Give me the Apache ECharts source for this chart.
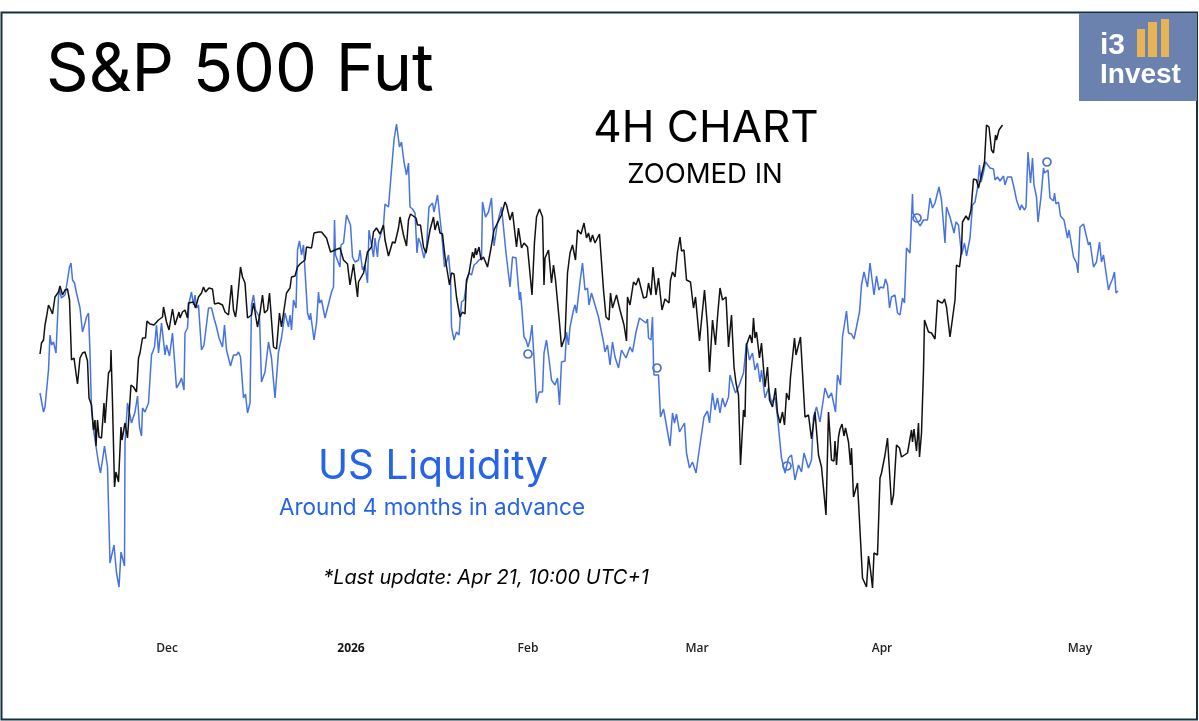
<!DOCTYPE html>
<html>
<head>
<meta charset="utf-8">
<title>S&amp;P 500 Fut vs US Liquidity</title>
<script src="https://cdn.jsdelivr.net/npm/echarts@6/dist/echarts.min.js"></script>
<style>
  html, body { margin: 0; padding: 0; background: #fff; }
  #chart { width: 1199px; height: 721px; }
</style>
</head>
<body>
<div id="chart"></div>
<script>
// 月份刻度（横轴位置与标签）
const monthTicks = [127, 311, 488, 657, 842, 1040]
const monthLabels = ['Dec', '2026', 'Feb', 'Mar', 'Apr', 'May']

// US Liquidity (shifted about 4 months ahead)
const liquidityBars = [0,1.5,3.5,5,6.5,8.5,10,11.5,13.5,16,18.5,19.5,21.5,25,27.5,29.5,31,32.5,34.5,36.5,40,41,42.5,45,46.5,48.5,50,51.5,53.5,55.5,58.5,60.5,62.5,64.5,67.5,70,74,76.5,79,81,84.5,85,87.5,89.5,91.5,95,97.5,99.5,101.5,102.5,105,108.5,111.5,114.5,116.5,118.5,121.5,125,126.5,129.5,132.5,136.5,140,141.5,144,145,147.5,149,151.5,153.5,155,156.5,158.5,161.5,164,168.5,171.5,174.5,176.5,179,182.5,184.5,186.5,190.5,193.5,196.5,198.5,200.5,203.5,205.5,207.5,210,211.5,213.5,215.5,219.5,221.5,225,228.5,231.5,235,238.5,241.5,245,248.5,
  250,251.5,253.5,255,256,257.5,259.5,261.5,263.5,265.5,267.5,269.5,270.5,274,276.5,278.5,279.5,281.5,285,286.5,289.5,291.5,293.5,294.5,295.5,297.5,300,301,303.5,306.5,310.5,312.5,315,318.5,320,322.5,325,327.5,329,331,333.5,335,337.5,338.5,340.5,343.5,345,348.5,351.5,354,356.5,359.5,361.5,364,366.5,368.5,370,372.5,375,377,378.5,380.5,384,386.5,389,392.5,394,397.5,399,401.5,404.5,406.5,408.5,410.5,411.5,414,416.5,419,421.5,424,426.5,429,431.5,434,436.5,439,441.5,442.5,445.5,448.5,451.5,454,457.5,461.5,463.5,466,467.5,470,472.5,476,479.5,480.5,482.5,484,486,488,490,492,494,496.5,499,502.5,504,506.5,509.5,511.5,515,517.5,519.5,
  521.5,525,526.5,528.5,530,533.5,535,536.5,540,542.5,545,547.5,549,551.5,555,558.5,563.5,565,567.5,570,572.5,575,578.5,581.5,586,590,592.5,596,599.5,606,607.5,608.5,611,612.5,613.5,614,618.5,620.5,623.5,625.5,630,632.5,634.5,636.5,639.5,641.5,644.5,646.5,649.5,652.5,656,659.5,661.5,664,667.5,669.5,672.5,675,677.5,680,682.5,685,688.5,690,693.5,695.5,698.5,700.5,703.5,706.5,709.5,712.5,715,717.5,720,721.5,725,728.5,731.5,735,737.5,740,741.5,745,748.5,751.5,755,758.5,761.5,764,768.5,771.5,773.5,776.5,780,785,788.5,791.5,795.5,797.5,800.5,802.5,806.5,
  808.5,811.5,814,816.5,819.5,821.5,824,826,827.5,830,831.5,834,836.5,839,840.5,843.5,845.5,847.5,849.5,851.5,855,857.5,860,862.5,864.5,866.5,870,872.5,873,880,883.5,887.5,890,892.5,895,899,901.5,905,906.5,910,914,916,918.5,921.5,924.5,926.5,930,932.5,935,937.5,939.5,941,943.5,945.5,947.5,950,953.5,955,957.5,960,963.5,965,967.5,971.5,974.5,976.5,980,981.5,984.5,986,988,990.5,992.5,994,996.5,998,1001,1003.5,1004.5,1008,1010,1013.5,1014.5,1016,1018.5,1020.5,1024,1027.5,1029,1033.5,1036.5,1038,1040,1043.5,1048.5,1050,1053.5,1056.5,1059.5,1061.5,1063.5,1065.5,1068.5,1070,1072.5,1074.5,1076,1078]
const liquidityLevels = [207,206,188,193,192,230,265,255,258,247,303,310,302,305,320,333,337,320,317,307,292,291,268,277,283,287,247,190,170,157,137,127,140,154,133,37,55,27,13,48,34,157,197,199,177,188,204,173,164,192,188,197,245,253,275,247,277,245,255,244,267,212,218,222,210,267,272,297,308,295,305,292,295,250,255,292,292,280,273,262,253,275,250,234,245,245,248,243,202,206,187,197,295,305,290,283,218,228,258,242,202,248,262,287,273,
  285,270,300,302,292,350,359,345,355,356,287,280,287,260,277,308,297,300,282,280,300,308,313,380,345,345,333,355,357,385,375,343,338,340,350,330,335,317,370,368,343,362,343,358,357,375,396,393,430,460,476,453,458,438,425,437,393,391,387,347,362,357,342,353,393,397,388,405,403,368,333,338,345,323,273,260,268,265,298,300,317,327,325,335,337,340,342,398,383,388,402,354,377,393,395,347,348,313,343,342,300,308,283,263,260,253,260,275,242,197,208,208,247,260,237,220,215,222,195,
  238,239,268,255,273,290,295,287,318,337,310,312,295,307,295,283,258,248,255,235,258,243,232,250,242,253,248,268,282,277,281,262,260,283,237,225,225,183,191,180,154,187,177,186,168,167,177,147,132,138,127,152,153,183,189,177,207,190,202,187,202,193,203,225,213,207,213,213,227,257,240,247,230,237,218,230,202,212,197,203,183,157,142,127,142,145,120,135,128,147,132,140,183,193,178,212,202,207,188,225,215,263,289,
  267,266,261,273,288,315,328,327,313,337,336,305,324,310,313,312,321,315,292,303,305,287,285,302,297,352,347,406,387,374,380,380,402,392,397,413,400,357,393,383,367,378,375,345,357,344,362,395,398,412,435,418,428,438,440,432,431,420,423,419,424,415,423,423,410,400,390,395,390,393,448,417,442,415,403,378,403,432,427,430,402,399,407,396,398,384,380,362,370,343,337,327,373,376,355,358,333,338,358,338,345,331,310,315,321,328,307,309]

// S&P 500 Fut, 4H
const sp500Bars = [0,1.5,3.5,5,6.5,8.5,10,12.5,15,18.5,20,22.5,25,27.5,29.5,31.5,34,36.5,37.5,40,42.5,45,47.5,49,51.5,53.5,55,56,57.5,59,61.5,64,65,68.5,70.5,71,72.5,74.5,76,78.5,81,82,85,87.5,91,93.5,96.5,98.5,100,102.5,105.5,107,110,114,118.5,122.5,123.5,126.5,129,132.5,135,136.5,139,140,142.5,145,147.5,148.5,153.5,155.5,158.5,161.5,163.5,165.5,169,172.5,174.5,178.5,182.5,185,188.5,191.5,193.5,195.5,196.5,200.5,202.5,205,207.5,211.5,213.5,217.5,220,222.5,224.5,227.5,229.5,231.5,233.5,236.5,239.5,241.5,246.5,
  250,251.5,255,257.5,260,265,266.5,271.5,274,278.5,281.5,286.5,290.5,295,300,303.5,307.5,310,313.5,315.5,317.5,318.5,323.5,327.5,331.5,333.5,336.5,340,343.5,345,348.5,352.5,355,358.5,360,363.5,366.5,368.5,370.5,376,377.5,380.5,383.5,386,390,393.5,395,397.5,400,402.5,405,409.5,411.5,414,416.5,420,422.5,425,426.5,429,432.5,434,435.5,436.5,439,441,443.5,447.5,451,454,456.5,461.5,465,466.5,470,472.5,476.5,478.5,481.5,484,487.5,492,494.5,496.5,499.5,502.5,504,505,508.5,511.5,513.5,515.5,519.5,
  521.5,525,527.5,530,532.5,535.5,537.5,541,544,546.5,548.5,550.5,552.5,555,559.5,563.5,566,569,570.5,572.5,576.5,580,584,586,586.5,587.5,590,593.5,596,598.5,600.5,603.5,606.5,608.5,611,613,616,618.5,622,625,629,630.5,632.5,635,637.5,640,641.5,644,646.5,650.5,653.5,655.5,659.5,664.5,667.5,669.5,672.5,675.5,677.5,680,682.5,686,688.5,691.5,694,696,698.5,700.5,703.5,705,706.5,710,712,713.5,715,716.5,719.5,721.5,725,727.5,729.5,732.5,735.5,737.5,740,742.5,744.5,746.5,749,750.5,754.5,756,760.5,765,768.5,771.5,775,778.5,781.5,786,788.5,
  791.5,794,795,796.5,798.5,800,802,804,805.5,808.5,810.5,811.5,813.5,815.5,817.5,820.5,822.5,826.5,828.5,830.5,832.5,834,837.5,840,841.5,845,847.5,851.5,853.5,856.5,859.5,861.5,867.5,871.5,872.5,874,876.5,878.5,879.5,881.5,
  883.5,884.5,886.5,888.5,891.5,895,897.5,900,902.5,904.5,906.5,910,911.5,915,916.5,919.5,921.5,922.5,926,928.5,931,933.5,936.5,938.5,941.5,944.5,946.5,949,951.5,953.5,955.5,956.5,959,962.5]
const sp500Levels = [246,257,260,275,283,295,292,286,303,308,314,305,310,311,300,240,242,223,216,242,247,248,239,202,195,170,180,154,180,163,162,197,177,227,230,250,197,113,128,118,173,160,177,162,215,213,208,242,247,262,262,279,276,275,280,283,293,278,270,291,275,273,288,282,288,290,282,297,298,292,303,307,313,308,312,311,296,297,295,288,285,315,290,283,290,333,323,317,282,285,297,273,287,305,287,290,307,280,253,251,287,273,307,
  312,323,324,333,336,340,353,352,367,368,368,362,348,350,352,340,336,315,336,338,303,318,327,348,353,368,372,366,375,360,344,358,357,372,383,365,354,380,386,382,375,375,353,347,370,383,370,379,367,366,343,315,327,326,303,283,288,286,320,327,348,342,352,345,353,340,343,333,352,370,375,385,398,395,380,388,353,372,352,357,353,305,358,383,391,383,315,342,350,317,335,320,277,
  253,263,327,347,355,340,370,366,377,362,367,358,365,357,366,310,283,280,307,292,305,290,275,273,259,303,295,318,315,322,322,302,303,317,305,333,305,322,290,301,297,320,328,323,348,363,349,350,320,318,292,303,259,310,273,228,280,255,283,312,300,303,253,285,233,217,205,135,190,183,255,265,257,282,262,268,242,257,213,233,200,193,212,187,177,188,175,207,200,223,262,245,263,183,185,161,188,145,133,85,188,
  140,139,159,135,163,171,176,164,172,158,135,152,103,103,117,60,22,13,44,30,12,47,45,122,127,145,162,95,105,155,152,143,147,170,158,171,149,177,143,167,
  230,280,279,268,267,261,300,298,297,301,293,263,265,300,335,333,350,378,384,380,390,421,420,412,425,438,475,473,450,447,465,460,470,475]

// 流动性曲线上的空心圆点
const markerBars = [488, 617, 747, 877, 1007]
const markerLevels = [246, 232, 134, 382, 438]

const zipPoints = (xs, ys) => xs.map((x, i) => [x, ys[i]])

const BLUE_LINE = '#4672e2'
const BLUE_TEXT = '#2563eb'
const NAVY = '#16303e'

// 文字块
const textBlock = (x, y, text, fontSize, extra = {}) => ({
  type: 'text',
  x,
  y,
  silent: true,
  style: {
    text,
    fontSize,
    fontFamily: 'Inter, "Noto Sans", sans-serif',
    fill: '#000',
    textVerticalAlign: 'middle',
    ...extra
  }
})

const goldBar = (x, y, width, height) => ({
  type: 'rect',
  shape: { x, y, width, height },
  style: { fill: '#e6b455' }
})

const chart = echarts.init(document.getElementById('chart'))

chart.setOption({
  animation: false,
  backgroundColor: '#fff',
  grid: { left: 40, right: 81, top: 100, bottom: 121 },
  xAxis: {
    type: 'value',
    min: 0,
    max: 1078,
    axisLine: { show: false },
    axisTick: { show: false },
    splitLine: { show: false },
    axisLabel: {
      customValues: monthTicks,
      margin: 43,
      fontSize: 12,
      fontWeight: 600,
      fontFamily: '"Open Sans", sans-serif',
      color: '#222',
      formatter: (value) => {
        const label = monthLabels[monthTicks.indexOf(value)]
        return label === '2026' ? `{year|${label}}` : label
      },
      rich: { year: { fontWeight: 'bold', fontSize: 12, color: '#111' } }
    }
  },
  yAxis: { type: 'value', min: 0, max: 500, show: false },
  series: [
    {
      name: 'US Liquidity',
      type: 'line',
      data: zipPoints(liquidityBars, liquidityLevels),
      showSymbol: false,
      lineStyle: { color: BLUE_LINE, width: 1.5 }
    },
    {
      name: 'S&P 500 Fut',
      type: 'line',
      data: zipPoints(sp500Bars, sp500Levels),
      showSymbol: false,
      lineStyle: { color: '#111', width: 1.5 }
    },
    {
      name: 'Markers',
      type: 'scatter',
      data: zipPoints(markerBars, markerLevels),
      symbol: 'circle',
      symbolSize: 8,
      itemStyle: { color: '#fff', borderColor: '#1f4fc0', borderWidth: 1.7 }
    }
  ],
  graphic: [
    // 外边框
    {
      type: 'rect',
      shape: { x: 1.5, y: 12.5, width: 1195.5, height: 707 },
      style: { fill: 'none', stroke: NAVY, lineWidth: 2 }
    },
    textBlock(46, 71, 'S&P 500 Fut', 66.5),
    textBlock(706, 129, '4H CHART', 44, { textAlign: 'center' }),
    textBlock(705, 175, 'ZOOMED IN', 27.5, { textAlign: 'center' }),
    textBlock(433, 467, 'US Liquidity', 40.5, { textAlign: 'center', fill: BLUE_TEXT }),
    textBlock(432, 508, 'Around 4 months in advance', 22.5, { textAlign: 'center', fill: BLUE_TEXT }),
    textBlock(486, 578, '*Last update: Apr 21, 10:00 UTC+1', 20, { textAlign: 'center', fontStyle: 'italic' }),
    // logo
    {
      type: 'rect',
      shape: { x: 1079, y: 13, width: 118, height: 88 },
      style: { fill: '#6a82ad' }
    },
    goldBar(1137, 29, 8, 28),
    goldBar(1148, 22, 9, 35),
    goldBar(1161, 19, 8, 38),
    textBlock(1100, 46, 'i3', 30, { fill: '#fff', fontWeight: 'bold', fontFamily: '"Liberation Sans", sans-serif' }),
    textBlock(1100, 75, 'Invest', 28, { fill: '#fff', fontWeight: 'bold', fontFamily: '"Liberation Sans", sans-serif' })
  ]
})
</script>
</body>
</html>
